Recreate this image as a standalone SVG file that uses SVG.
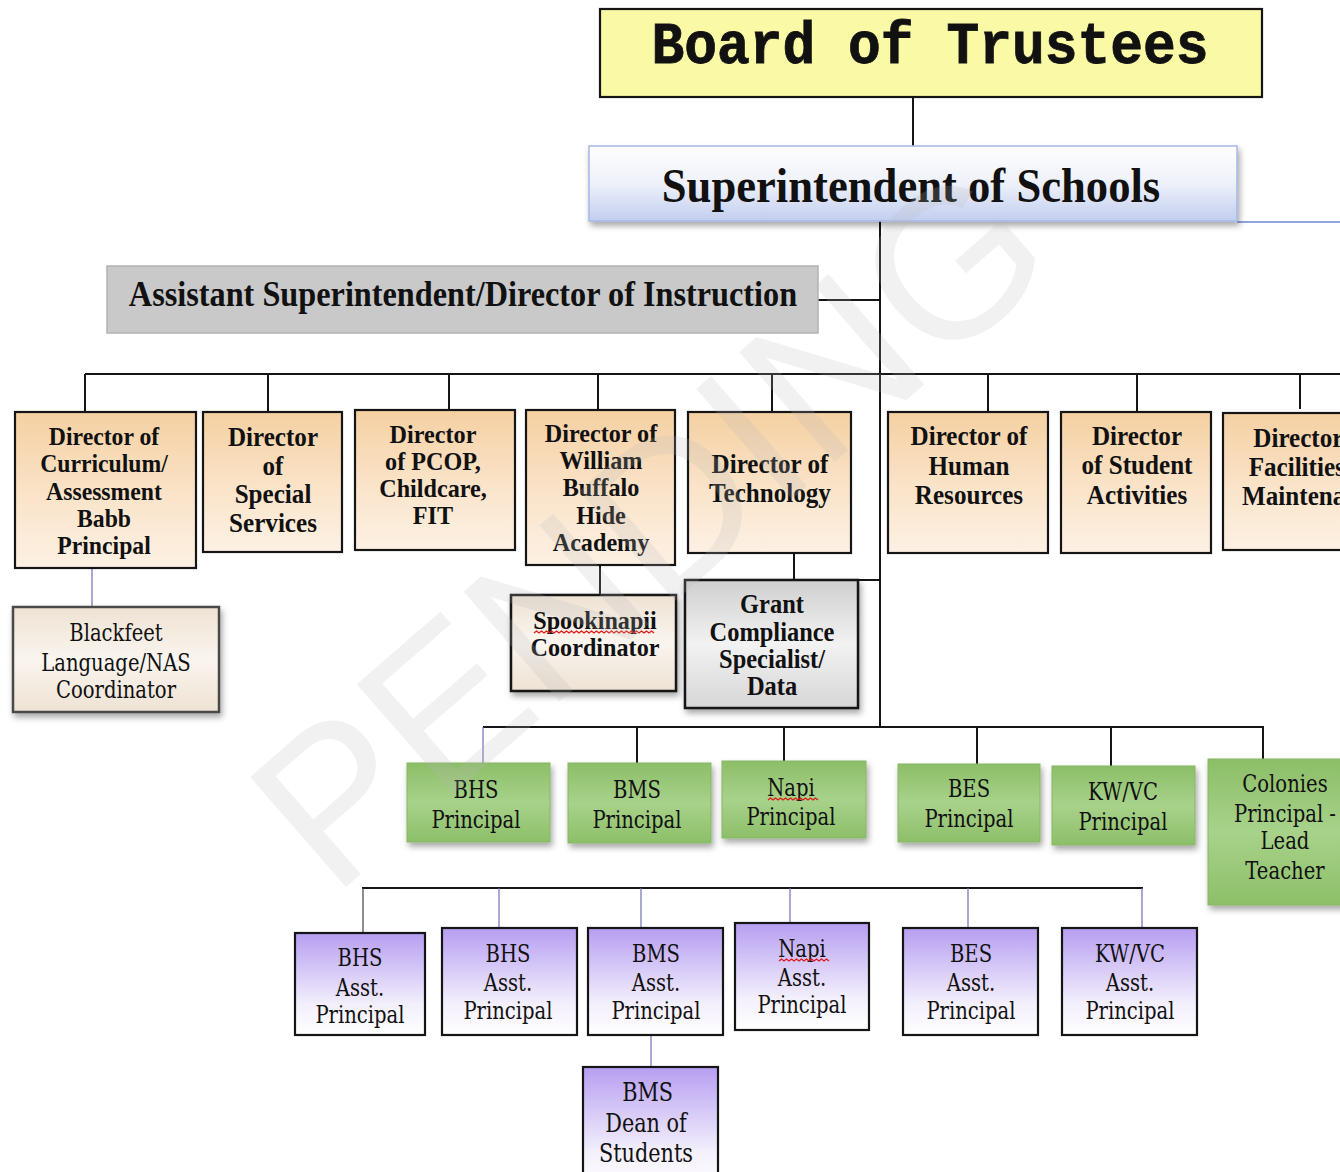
<svg xmlns="http://www.w3.org/2000/svg" width="1340" height="1172" viewBox="0 0 1340 1172">
<style>
.t{font-family:"Liberation Serif","Times New Roman",serif;text-anchor:middle;fill:#111}
.b{font-weight:bold}
.r{font-family:"DejaVu Serif","Liberation Serif",serif;font-weight:normal;text-anchor:middle;fill:#111;font-size:24.5px}
.ln{stroke:#151515;stroke-width:2;fill:none}
.thin{stroke:#6f6fb8;stroke-width:1.2;fill:none}
.dir{fill:url(#peach);stroke:#151515;stroke-width:2.2}
.grn{fill:url(#green);stroke:#86b664;stroke-width:1;filter:url(#sh)}
.pur{fill:url(#purple);stroke:#151515;stroke-width:2.2}
.sq{stroke:#e01818;stroke-width:1.3;fill:none}
</style>
<defs>
<linearGradient id="peach" x1="0" y1="0" x2="0" y2="1"><stop offset="0" stop-color="#f5d0a2"/><stop offset="0.55" stop-color="#fae4ca"/><stop offset="1" stop-color="#fdf1e4"/></linearGradient>
<linearGradient id="green" x1="0" y1="0" x2="0" y2="1"><stop offset="0" stop-color="#8cbe68"/><stop offset="0.5" stop-color="#a8d28a"/><stop offset="1" stop-color="#8dbf69"/></linearGradient>
<linearGradient id="purple" x1="0" y1="0" x2="0" y2="1"><stop offset="0" stop-color="#b69ef1"/><stop offset="0.7" stop-color="#f3effc"/><stop offset="1" stop-color="#ffffff"/></linearGradient>
<linearGradient id="sup" x1="0" y1="0" x2="0" y2="1"><stop offset="0" stop-color="#ffffff"/><stop offset="0.5" stop-color="#eef1fa"/><stop offset="1" stop-color="#c2cef0"/></linearGradient>
<linearGradient id="cream" x1="0" y1="0" x2="0" y2="1"><stop offset="0" stop-color="#eee2d3"/><stop offset="0.5" stop-color="#faf5ef"/><stop offset="1" stop-color="#eee2d3"/></linearGradient>
<linearGradient id="gray" x1="0" y1="0" x2="0" y2="1"><stop offset="0" stop-color="#cfcfcf"/><stop offset="0.5" stop-color="#f2f2f2"/><stop offset="1" stop-color="#d6d6d6"/></linearGradient>
<filter id="sh" x="-10%" y="-10%" width="130%" height="140%"><feDropShadow dx="2" dy="4" stdDeviation="3" flood-color="#000" flood-opacity="0.35"/></filter>
</defs>
<rect width="1340" height="1172" fill="#ffffff"/>

<g id="connectors">
<line class="ln" x1="913" y1="97" x2="913" y2="146"/>
<line x1="1237" y1="222" x2="1340" y2="222" stroke="#6b86d6" stroke-width="1.5"/>
<line class="ln" x1="880" y1="221" x2="880" y2="728"/>
<line class="ln" x1="818" y1="300" x2="880" y2="300" stroke-width="1.5"/>
<line class="ln" x1="85" y1="374" x2="1340" y2="374" stroke="#333"/>
<line class="ln" x1="85" y1="374" x2="85" y2="412"/>
<line class="ln" x1="268" y1="374" x2="268" y2="412"/>
<line class="ln" x1="449" y1="374" x2="449" y2="410"/>
<line class="ln" x1="598" y1="374" x2="598" y2="410"/>
<line class="ln" x1="772" y1="374" x2="772" y2="412"/>
<line class="ln" x1="988" y1="374" x2="988" y2="412"/>
<line class="ln" x1="1137" y1="374" x2="1137" y2="412"/>
<line class="ln" x1="1300" y1="374" x2="1300" y2="409"/>
<line class="thin" x1="92" y1="568" x2="92" y2="607"/>
<line class="ln" x1="600" y1="565" x2="600" y2="595"/>
<line class="ln" x1="794" y1="553" x2="794" y2="580"/>
<line class="ln" x1="858" y1="580" x2="880" y2="580" stroke-width="1.5"/>
<line class="ln" x1="483" y1="727" x2="1264" y2="727" stroke-width="2.5"/>
<line class="thin" x1="483" y1="727" x2="483" y2="763"/>
<line class="ln" x1="637" y1="727" x2="637" y2="763"/>
<line class="ln" x1="784" y1="727" x2="784" y2="761"/>
<line class="ln" x1="977" y1="727" x2="977" y2="764"/>
<line class="ln" x1="1111" y1="727" x2="1111" y2="766"/>
<line class="ln" x1="1263" y1="727" x2="1263" y2="759"/>
<line class="ln" x1="362" y1="888" x2="1143" y2="888" stroke-width="2.5"/>
<line x1="363" y1="888" x2="363" y2="933" stroke="#444" stroke-width="1.2"/>
<line class="thin" x1="499" y1="888" x2="499" y2="928"/>
<line class="thin" x1="641" y1="888" x2="641" y2="928"/>
<line class="thin" x1="790" y1="888" x2="790" y2="923"/>
<line class="thin" x1="968" y1="888" x2="968" y2="928"/>
<line class="thin" x1="1142" y1="888" x2="1142" y2="928"/>
<line class="thin" x1="651" y1="1035" x2="651" y2="1067"/>
</g>

<g id="board">
<rect x="600" y="9" width="662" height="88" fill="#f9f9a6" stroke="#151515" stroke-width="2.2"/>
<g transform="translate(930,0) scale(0.91,1)"><text x="0" y="63" font-family="'Liberation Mono','Courier New',monospace" font-weight="bold" font-size="60" text-anchor="middle" fill="#111" stroke="#111" stroke-width="0.8">Board of Trustees</text></g>
</g>

<g id="superintendent">
<rect x="589" y="146" width="648" height="75" fill="url(#sup)" stroke="#a6b6e6" stroke-width="1.5" filter="url(#sh)"/>
<g transform="translate(911,0) scale(0.93,1)"><text class="t b" x="0" y="202" font-size="48">Superintendent of Schools</text></g>
</g>

<g id="assistant">
<rect x="107" y="266" width="711" height="67" fill="#c9c9c9" stroke="#b3b3b3" stroke-width="1.5"/>
<g transform="translate(463,0) scale(0.922,1)"><text class="t b" x="0" y="306" font-size="35">Assistant Superintendent/Director of Instruction</text></g>
</g>

<g id="dir-curriculum">
<rect class="dir" x="15" y="412" width="181" height="156"/>
<g transform="translate(104,0) scale(0.93,1)"><text class="t b" font-size="25.5"><tspan x="0" y="445">Director of</tspan><tspan x="0" y="472">Curriculum/</tspan><tspan x="0" y="500">Assessment</tspan><tspan x="0" y="527">Babb</tspan><tspan x="0" y="554">Principal</tspan></text></g>
</g>

<g id="dir-special">
<rect class="dir" x="203" y="412" width="139" height="140"/>
<g transform="translate(273,0) scale(0.93,1)"><text class="t b" font-size="27"><tspan x="0" y="446">Director</tspan><tspan x="0" y="475">of</tspan><tspan x="0" y="503">Special</tspan><tspan x="0" y="532">Services</tspan></text></g>
</g>

<g id="dir-pcop">
<rect class="dir" x="355" y="410" width="160" height="140"/>
<g transform="translate(433,0) scale(0.93,1)"><text class="t b" font-size="26"><tspan x="0" y="443">Director</tspan><tspan x="0" y="470">of PCOP,</tspan><tspan x="0" y="497">Childcare,</tspan><tspan x="0" y="524">FIT</tspan></text></g>
</g>

<g id="dir-wbha">
<rect class="dir" x="526" y="410" width="149" height="155"/>
<g transform="translate(601,0) scale(0.93,1)"><text class="t b" font-size="26"><tspan x="0" y="442">Director of</tspan><tspan x="0" y="469">William</tspan><tspan x="0" y="496">Buffalo</tspan><tspan x="0" y="524">Hide</tspan><tspan x="0" y="551">Academy</tspan></text></g>
</g>

<g id="dir-technology">
<rect class="dir" x="688" y="412" width="163" height="141"/>
<g transform="translate(770,0) scale(0.93,1)"><text class="t b" font-size="27"><tspan x="0" y="473">Director of</tspan><tspan x="0" y="502">Technology</tspan></text></g>
</g>

<g id="dir-hr">
<rect class="dir" x="888" y="412" width="160" height="141"/>
<g transform="translate(969,0) scale(0.93,1)"><text class="t b" font-size="27"><tspan x="0" y="445">Director of</tspan><tspan x="0" y="475">Human</tspan><tspan x="0" y="504">Resources</tspan></text></g>
</g>

<g id="dir-activities">
<rect class="dir" x="1061" y="412" width="150" height="141"/>
<g transform="translate(1137,0) scale(0.93,1)"><text class="t b" font-size="27"><tspan x="0" y="445">Director</tspan><tspan x="0" y="474">of Student</tspan><tspan x="0" y="504">Activities</tspan></text></g>
</g>

<g id="dir-facilities">
<rect class="dir" x="1223" y="413" width="140" height="137"/>
<g transform="translate(1310,0) scale(0.93,1)"><text class="t b" font-size="27" style="text-anchor:start"><tspan x="-61" y="447">Director of</tspan><tspan x="-66" y="476">Facilities</tspan><tspan x="-73" y="505">Maintenance</tspan></text></g>
</g>

<g id="blackfeet">
<rect x="13" y="607" width="206" height="105" fill="url(#cream)" stroke="#4a4a4a" stroke-width="2.5" filter="url(#sh)"/>
<g transform="translate(116,0) scale(0.8,1)"><text class="r"><tspan x="0" y="641">Blackfeet</tspan><tspan x="0" y="671">Language/NAS</tspan><tspan x="0" y="698">Coordinator</tspan></text></g>
</g>

<g id="spookinapii">
<rect x="511" y="595" width="165" height="96" fill="url(#cream)" stroke="#151515" stroke-width="2.5" filter="url(#sh)"/>
<g transform="translate(595,0) scale(0.93,1)"><text class="t b" font-size="26"><tspan x="0" y="629">Spookinapii</tspan><tspan x="0" y="656">Coordinator</tspan></text></g>
<path class="sq" d="M534 633 l2.5 -2 l2.5 2 l2.5 -2 l2.5 2 l2.5 -2 l2.5 2 l2.5 -2 l2.5 2 l2.5 -2 l2.5 2 l2.5 -2 l2.5 2 l2.5 -2 l2.5 2 l2.5 -2 l2.5 2 l2.5 -2 l2.5 2 l2.5 -2 l2.5 2 l2.5 -2 l2.5 2 l2.5 -2 l2.5 2 l2.5 -2 l2.5 2 l2.5 -2 l2.5 2 l2.5 -2 l2.5 2 l2.5 -2 l2.5 2 l2.5 -2 l2.5 2 l2.5 -2 l2.5 2 l2.5 -2 l2.5 2 l2.5 -2 l2.5 2 l2.5 -2 l2.5 2 l2.5 -2 l2.5 2 l2.5 -2 l2.5 2 l2.5 -2 l2.5 2"/>
</g>

<g id="grant">
<rect x="685" y="580" width="173" height="128" fill="url(#gray)" stroke="#151515" stroke-width="2.5" filter="url(#sh)"/>
<g transform="translate(772,0) scale(0.93,1)"><text class="t b" font-size="26.3"><tspan x="0" y="613">Grant</tspan><tspan x="0" y="641">Compliance</tspan><tspan x="0" y="668">Specialist/</tspan><tspan x="0" y="695">Data</tspan></text></g>
</g>

<g id="bhs-principal">
<rect class="grn" x="407" y="763" width="143" height="79"/>
<g transform="translate(476,0) scale(0.8,1)"><text class="r"><tspan x="0" y="798">BHS</tspan><tspan x="0" y="828">Principal</tspan></text></g>
</g>
<g id="bms-principal">
<rect class="grn" x="568" y="763" width="143" height="80"/>
<g transform="translate(637,0) scale(0.8,1)"><text class="r"><tspan x="0" y="798">BMS</tspan><tspan x="0" y="828">Principal</tspan></text></g>
</g>
<g id="napi-principal">
<rect class="grn" x="722" y="761" width="144" height="77"/>
<g transform="translate(791,0) scale(0.8,1)"><text class="r"><tspan x="0" y="796">Napi</tspan><tspan x="0" y="825">Principal</tspan></text></g>
<path class="sq" d="M768 800 l2.5 -2 l2.5 2 l2.5 -2 l2.5 2 l2.5 -2 l2.5 2 l2.5 -2 l2.5 2 l2.5 -2 l2.5 2 l2.5 -2 l2.5 2 l2.5 -2 l2.5 2 l2.5 -2 l2.5 2 l2.5 -2 l2.5 2 l2.5 -2 l2.5 2"/>
</g>
<g id="bes-principal">
<rect class="grn" x="898" y="764" width="142" height="78"/>
<g transform="translate(969,0) scale(0.8,1)"><text class="r"><tspan x="0" y="797">BES</tspan><tspan x="0" y="827">Principal</tspan></text></g>
</g>
<g id="kwvc-principal">
<rect class="grn" x="1052" y="766" width="143" height="79"/>
<g transform="translate(1123,0) scale(0.8,1)"><text class="r"><tspan x="0" y="800">KW/VC</tspan><tspan x="0" y="830">Principal</tspan></text></g>
</g>
<g id="colonies">
<rect class="grn" x="1208" y="759" width="150" height="146"/>
<g transform="translate(1285,0) scale(0.8,1)"><text class="r"><tspan x="0" y="792">Colonies</tspan><tspan x="0" y="822">Principal -</tspan><tspan x="0" y="849">Lead</tspan><tspan x="0" y="879">Teacher</tspan></text></g>
</g>

<g id="bhs-ap1">
<rect class="pur" x="295" y="933" width="130" height="102"/>
<g transform="translate(360,0) scale(0.8,1)"><text class="r"><tspan x="0" y="966">BHS</tspan><tspan x="0" y="996">Asst.</tspan><tspan x="0" y="1023">Principal</tspan></text></g>
</g>
<g id="bhs-ap2">
<rect class="pur" x="442" y="928" width="135" height="107"/>
<g transform="translate(508,0) scale(0.8,1)"><text class="r"><tspan x="0" y="962">BHS</tspan><tspan x="0" y="991">Asst.</tspan><tspan x="0" y="1019">Principal</tspan></text></g>
</g>
<g id="bms-ap">
<rect class="pur" x="588" y="928" width="135" height="107"/>
<g transform="translate(656,0) scale(0.8,1)"><text class="r"><tspan x="0" y="962">BMS</tspan><tspan x="0" y="991">Asst.</tspan><tspan x="0" y="1019">Principal</tspan></text></g>
</g>
<g id="napi-ap">
<rect class="pur" x="735" y="923" width="134" height="107"/>
<g transform="translate(802,0) scale(0.8,1)"><text class="r"><tspan x="0" y="957">Napi</tspan><tspan x="0" y="986">Asst.</tspan><tspan x="0" y="1013">Principal</tspan></text></g>
<path class="sq" d="M779 961 l2.5 -2 l2.5 2 l2.5 -2 l2.5 2 l2.5 -2 l2.5 2 l2.5 -2 l2.5 2 l2.5 -2 l2.5 2 l2.5 -2 l2.5 2 l2.5 -2 l2.5 2 l2.5 -2 l2.5 2 l2.5 -2 l2.5 2 l2.5 -2 l2.5 2"/>
</g>
<g id="bes-ap">
<rect class="pur" x="903" y="928" width="135" height="107"/>
<g transform="translate(971,0) scale(0.8,1)"><text class="r"><tspan x="0" y="962">BES</tspan><tspan x="0" y="991">Asst.</tspan><tspan x="0" y="1019">Principal</tspan></text></g>
</g>
<g id="kwvc-ap">
<rect class="pur" x="1062" y="928" width="135" height="107"/>
<g transform="translate(1130,0) scale(0.8,1)"><text class="r"><tspan x="0" y="962">KW/VC</tspan><tspan x="0" y="991">Asst.</tspan><tspan x="0" y="1019">Principal</tspan></text></g>
</g>
<g id="bms-dean">
<rect class="pur" x="583" y="1067" width="135" height="120"/>
<g transform="translate(646,0) scale(0.8,1)"><text class="r" style="font-size:26px"><tspan x="2" y="1101">BMS</tspan><tspan x="0" y="1132">Dean of</tspan><tspan x="0" y="1162">Students</tspan></text></g>
</g>

<g id="watermark" transform="translate(648,525) rotate(-41)">
<text x="0" y="75" font-family="'Liberation Sans',Arial,sans-serif" font-size="212" text-anchor="middle" fill="#b8b8b8" fill-opacity="0.2">PENDING</text>
</g>
</svg>
